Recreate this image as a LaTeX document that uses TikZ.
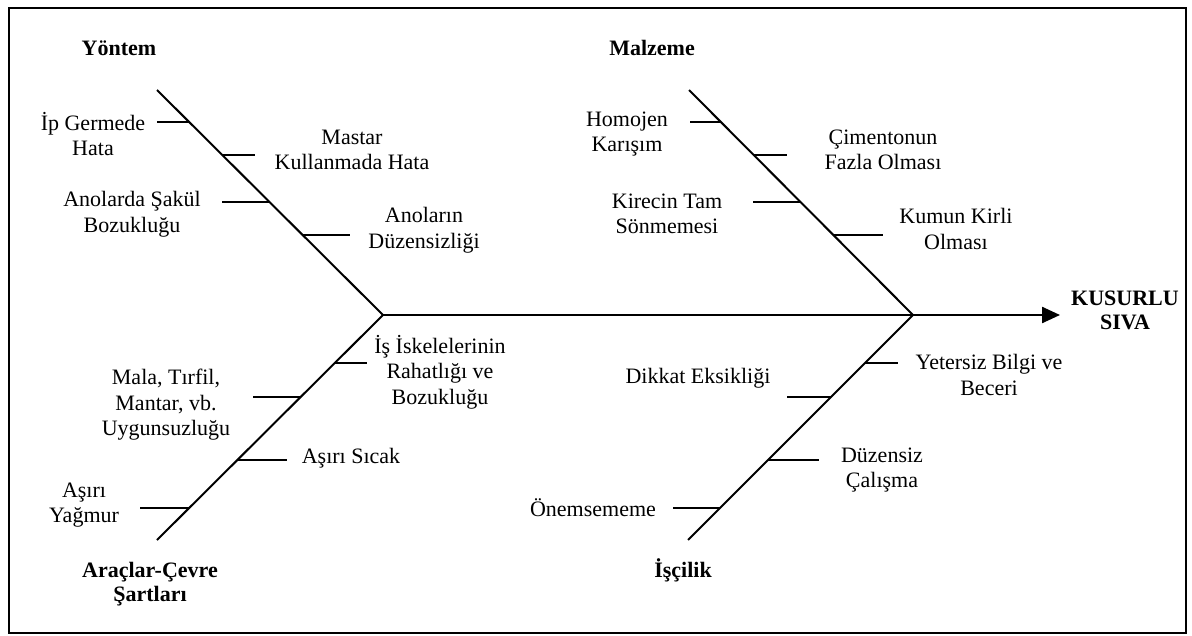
\documentclass[tikz,border=0pt]{standalone}
\usepackage{fontspec}
\setmainfont{Liberation Serif}
\usetikzlibrary{arrows.meta}
\begin{document}
\begin{tikzpicture}[x=0.5pt,y=-0.5pt,
  bone/.style={line width=1pt},
  rib/.style={line width=1pt},
  cause/.style={inner sep=0pt,align=center,font=\fontsize{11}{12.8}\selectfont},
  head/.style={inner sep=0pt,align=center,font=\fontsize{11}{12}\selectfont\bfseries}]
\useasboundingbox (0,0) rectangle (1192,636);
\draw[line width=1.1pt] (9,8) rectangle (1186,633);

% junctions and bone ends
\coordinate (jY) at (383,315);
\coordinate (jM) at (913,315);
\coordinate (tip) at (1060,315);
\coordinate (yTop) at (157,90);
\coordinate (mTop) at (689,90);
\coordinate (aBot) at (157,540);
\coordinate (iBot) at (688,540);

% spine and main bones
\draw[line width=1.2pt,-{Triangle[length=9pt,width=8pt]}] (jY) -- (tip);
\draw[bone] (yTop) -- (jY);
\draw[bone] (mTop) -- (jM);
\draw[bone] (jY) -- (aBot);
\draw[bone] (jM) -- (iBot);

% category headings
\node[head] (hY) at (119,48) {Yöntem};
\node[head] (hM) at (652,48) {Malzeme};
\node[head] (hA) at (150,584) {Araçlar-Çevre\\Şartları};
\node[head] (hI) at (683,570) {İşçilik};
\node[head] (effect) at (1125,310) {KUSURLU\\SIVA};

% Yöntem causes
\node[cause] (y1) at (93,134) {İp Germede\\Hata};
\node[cause] (y2) at (352,150) {Mastar\\Kullanmada Hata};
\node[cause] (y3) at (132,214) {Anolarda Şakül\\Bozukluğu};
\node[cause] (y4) at (424,230) {Anoların\\Düzensizliği};
\coordinate (y1a) at (157,122); \coordinate (y1b) at (189,122);
\coordinate (y2a) at (222,155); \coordinate (y2b) at (255,155);
\coordinate (y3a) at (222,202); \coordinate (y3b) at (269,202);
\coordinate (y4a) at (302,235); \coordinate (y4b) at (350,235);
\draw[rib] (y1a) -- (y1b);
\draw[rib] (y2a) -- (y2b);
\draw[rib] (y3a) -- (y3b);
\draw[rib] (y4a) -- (y4b);

% Malzeme causes
\node[cause] (m1) at (627,134) {Homojen\\Karışım};
\node[cause] (m2) at (883,150) {Çimentonun\\Fazla Olması};
\node[cause] (m3) at (667,214) {Kirecin Tam\\Sönmemesi};
\node[cause] (m4) at (956,229) {Kumun Kirli\\Olması};
\coordinate (m1a) at (690,122); \coordinate (m1b) at (721,122);
\coordinate (m2a) at (754,155); \coordinate (m2b) at (787,155);
\coordinate (m3a) at (753,202); \coordinate (m3b) at (801,202);
\coordinate (m4a) at (834,235); \coordinate (m4b) at (883,235);
\draw[rib] (m1a) -- (m1b);
\draw[rib] (m2a) -- (m2b);
\draw[rib] (m3a) -- (m3b);
\draw[rib] (m4a) -- (m4b);

% Araçlar-Çevre causes
\node[cause] (a1) at (440,372) {İş İskelelerinin\\Rahatlığı ve\\Bozukluğu};
\node[cause] (a2) at (166,405) {Mala, Tırfil,\\Mantar, vb.\\Uygunsuzluğu};
\node[cause] (a3) at (351,458) {Aşırı Sıcak};
\node[cause] (a4) at (84,505) {Aşırı\\Yağmur};
\coordinate (a1a) at (335,363); \coordinate (a1b) at (367,363);
\coordinate (a2a) at (253,397); \coordinate (a2b) at (301,397);
\coordinate (a3a) at (238,460); \coordinate (a3b) at (287,460);
\coordinate (a4a) at (140,508); \coordinate (a4b) at (190,508);
\draw[rib] (a1a) -- (a1b);
\draw[rib] (a2a) -- (a2b);
\draw[rib] (a3a) -- (a3b);
\draw[rib] (a4a) -- (a4b);

% İşçilik causes
\node[cause] (i1) at (989,375) {Yetersiz Bilgi ve\\Beceri};
\node[cause] (i2) at (698,378) {Dikkat Eksikliği};
\node[cause] (i3) at (882,470) {Düzensiz\\Çalışma};
\node[cause] (i4) at (593,508) {Önemsememe};
\coordinate (i1a) at (865,363); \coordinate (i1b) at (898,363);
\coordinate (i2a) at (787,397); \coordinate (i2b) at (831,397);
\coordinate (i3a) at (768,460); \coordinate (i3b) at (819,460);
\coordinate (i4a) at (673,508); \coordinate (i4b) at (720,508);
\draw[rib] (i1a) -- (i1b);
\draw[rib] (i2a) -- (i2b);
\draw[rib] (i3a) -- (i3b);
\draw[rib] (i4a) -- (i4b);
\end{tikzpicture}
\end{document}
